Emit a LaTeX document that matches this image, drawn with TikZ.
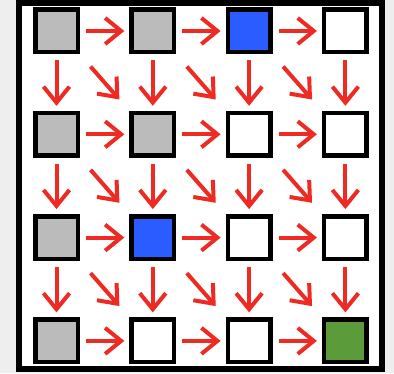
\documentclass[tikz,border=0pt]{standalone}
\usepackage{tikz}
\usetikzlibrary{
	arrows.meta,
	positioning
}
\definecolor{pagegray}{HTML}{EEEEEE}
\definecolor{cellgray}{HTML}{BBBBBB}
\definecolor{cellblue}{HTML}{2B5CFF}
\definecolor{cellgreen}{HTML}{5B9B3A}
\definecolor{arrowred}{HTML}{EE2A22}

\begin{document}
\begin{tikzpicture}[
    x=1pt, y=1pt,
    node distance=56.3pt and 49.3pt,
    cell/.style={rectangle, draw, line width=4.5pt, minimum size=42.5pt, inner sep=0pt, fill=white},
    arrow/.style={draw=arrowred, line width=4pt, -{Straight Barb[length=16pt,width=26pt]}, shorten <=6pt, shorten >=5pt},
    diag/.style={arrow, shorten <=16pt, shorten >=15pt}
]

% Frame
\fill[pagegray] (0,0) rectangle (394,373);
\draw[line width=6pt, fill=white] (19,4.5) rectangle (382,370.5);

% Nodes
\node[cell, fill=cellgray] (c11) at (56.5,342.5) {};
\node[cell, fill=cellgray, right=of c11] (c12) {};
\node[cell, fill=cellblue, right=of c12] (c13) {};
\node[cell, right=of c13] (c14) {};

\node[cell, fill=cellgray, below=of c11] (c21) {};
\node[cell, fill=cellgray, right=of c21] (c22) {};
\node[cell, right=of c22] (c23) {};
\node[cell, right=of c23] (c24) {};

\node[cell, fill=cellgray, below=of c21] (c31) {};
\node[cell, fill=cellblue, right=of c31] (c32) {};
\node[cell, right=of c32] (c33) {};
\node[cell, right=of c33] (c34) {};

\node[cell, fill=cellgray, below=of c31] (c41) {};
\node[cell, right=of c41] (c42) {};
\node[cell, right=of c42] (c43) {};
\node[cell, fill=cellgreen, right=of c43] (c44) {};

% Arrows
\foreach \r in {1,...,4}
  \foreach \c/\n in {1/2,2/3,3/4}
    \draw[arrow] (c\r\c) -- (c\r\n);
\foreach \r/\s in {1/2,2/3,3/4}
  \foreach \c in {1,...,4}
    \draw[arrow] (c\r\c) -- (c\s\c);
\foreach \r/\s in {1/2,2/3,3/4}
  \foreach \c/\n in {1/2,2/3,3/4}
    \draw[diag] (c\r\c.south east) -- (c\s\n.north west);

\end{tikzpicture}
\end{document}
